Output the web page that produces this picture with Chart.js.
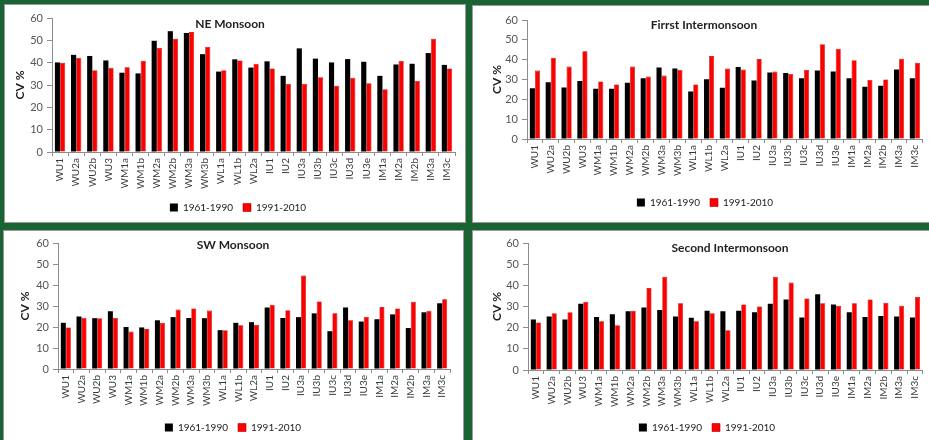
<!DOCTYPE html>
<html><head><meta charset="utf-8">
<script src="https://cdn.jsdelivr.net/npm/chart.js@4"></script>
<style>
html,body{margin:0;padding:0;background:#1a6332;width:929px;height:440px;overflow:hidden;position:relative;}
.panel{position:absolute;background:#fff;overflow:hidden;box-shadow:0 0 0 1px #9a9a9a;}
.panel canvas{position:absolute;left:0;top:0;}
</style></head><body>
<div class="panel" style="left:5px;top:5px;width:460px;height:217px"><canvas id="c1"></canvas></div>
<div class="panel" style="left:473px;top:6px;width:456px;height:216px"><canvas id="c2"></canvas></div>
<div class="panel" style="left:4px;top:231px;width:459px;height:209px"><canvas id="c3"></canvas></div>
<div class="panel" style="left:473px;top:231px;width:456px;height:209px"><canvas id="c4"></canvas></div>
<script>
const categories = ['WU1','WU2a','WU2b','WU3','WM1a','WM1b','WM2a','WM2b','WM3a','WM3b','WL1a','WL1b','WL2a','IU1','IU2','IU3a','IU3b','IU3c','IU3d','IU3e','IM1a','IM2a','IM2b','IM3a','IM3c'];
const periods = ['1961-1990','1991-2010'];
const titles = ['NE Monsoon','Firrst Intermonsoon','SW Monsoon','Second Intermonsoon'];
const yAxisTitle = 'CV %';

const neMonsoon6190 = [40.1,43.5,43,41,35.5,35.2,49.8,54.1,53.3,43.8,36,41.5,37.8,40.6,34.1,46.4,41.8,40.1,41.6,40.4,34.1,39.2,39.5,44.3,39];
const neMonsoon9110 = [40,42.2,36.6,37.7,37.9,40.9,46.6,50.7,53.7,47.1,36.6,41,39.5,37.4,30.5,30.5,33.5,29.7,33.2,30.8,28.1,40.8,31.8,50.7,37.4];

const firstInter6190 = [25.6,28.6,26,29.2,25.3,25.3,28.3,30.6,36,35.5,24,30.1,25.8,36.3,29.5,33.5,33.3,30.6,34.5,34,30.6,26.3,26.8,35,30.6];
const firstInter9110 = [34.5,41,36.5,44.2,29,27.5,36.5,31.5,32,34.8,27.5,41.8,35.5,35,40.3,34,32.8,34.8,47.8,45.5,39.7,29.8,30,40.5,38.5];

const swMonsoon6190 = [22,25,24.2,27.5,20,19.8,23.2,24.7,24.3,24.2,18.5,22,22.3,29.3,24.3,24.7,26.5,18,29.3,22.6,23.7,26,19.5,27,31.3];
const swMonsoon9110 = [19.8,24.3,24.2,24.3,17.8,19,22,28.3,28.8,27.8,18.5,20.8,21,30.5,28,44.5,32.2,26.5,23.2,24.8,29.5,28.8,32,27.7,33.2];

const secondInter6190 = [23.8,25.3,23.8,31.3,25,26.3,27.8,29.5,28.3,25.3,24.7,28,27.8,28,27.3,31.3,33.3,24.8,35.8,31,27.3,25,25.5,25.3,24.8];
const secondInter9110 = [22.5,26.8,27.3,32.3,23,21.2,28,38.7,44,31.5,23,26.8,18.8,31,30,44,41.3,33.8,31.5,30.3,31.5,33.3,31.8,30.3,34.5];

const yMin = 0, yMax = 60, yStep = 10;

const panelTextPlugin = {
  id: 'panelText',
  afterDraw(chart, args, opts) {
    const ctx = chart.ctx;
    const area = chart.chartArea;
    ctx.save();
    ctx.fillStyle = '#1f1f1f';
    ctx.textAlign = 'center';
    ctx.textBaseline = 'middle';
    ctx.font = 'bold 12px Lato';
    ctx.fillText(opts.title, opts.tx, opts.ty);
    ctx.translate(opts.yx, (area.top + area.bottom) / 2);
    ctx.rotate(-Math.PI / 2);
    ctx.fillText(opts.yTitle, 0, 0);
    ctx.restore();
  }
};

function build(id, w, h, title, black, red, g) {
  const cv = document.getElementById(id);
  const lp = 10, lfs = 10;
  const legendBottom = g.legendY + 15.5;
  const legendTop = legendBottom - (lp + 18);
  const ch = Math.max(h, Math.ceil(legendBottom));
  cv.width = w; cv.height = ch;
  cv.style.width = w + 'px'; cv.style.height = ch + 'px';
  return new Chart(cv, {
    type: 'bar',
    data: {
      labels: categories,
      datasets: [
        {label: periods[0], data: black, backgroundColor: '#000000', borderWidth: 0, categoryPercentage: 0.64, barPercentage: 1},
        {label: periods[1], data: red, backgroundColor: '#ff0000', borderColor: '#b00000', borderWidth: 0.6, categoryPercentage: 0.64, barPercentage: 1}
      ]
    },
    options: {
      responsive: false,
      animation: false,
      devicePixelRatio: 1,
      layout: {padding: {left: g.pl, top: g.top, right: w - g.right, bottom: ch - legendBottom}},
      scales: {
        x: {
          grid: {display: true, drawOnChartArea: false, drawTicks: true, tickLength: 4, color: '#8c8c8c', offset: true},
          border: {color: '#8c8c8c'},
          ticks: {minRotation: 90, maxRotation: 90, autoSkip: false, padding: 2, color: '#3a3a3a', font: {family: 'Lato', size: 10}},
          afterFit(s) { s.height = legendTop - g.bottom; }
        },
        y: {
          min: yMin, max: yMax,
          ticks: {stepSize: yStep, padding: 4, color: '#555555', font: {family: 'Lato', size: 11}},
          grid: {drawOnChartArea: false, drawTicks: true, tickLength: 5, color: '#8c8c8c'},
          border: {color: '#8c8c8c'},
          afterFit(s) { s.width = g.left - g.pl; }
        }
      },
      plugins: {
        legend: {position: 'bottom', labels: {boxWidth: 8, boxHeight: 8, padding: lp, color: '#222222', font: {family: 'Lato', size: lfs}}},
        tooltip: {enabled: false},
        panelText: {title: title, tx: g.tx, ty: g.ty, yTitle: yAxisTitle, yx: g.yx}
      }
    },
    plugins: [panelTextPlugin]
  });
}

build('c1', 460, 217, titles[0], neMonsoon6190, neMonsoon9110, {pl: 16, left: 47, top: 13, right: 450, bottom: 149, legendY: 202, tx: 225, ty: 19, yx: 15});
build('c2', 456, 216, titles[1], firstInter6190, firstInter9110, {pl: 14, left: 54, top: 14, right: 450, bottom: 135, legendY: 196, tx: 231, ty: 19, yx: 24});
build('c3', 459, 209, titles[2], swMonsoon6190, swMonsoon9110, {pl: 12, left: 54, top: 12, right: 446, bottom: 140, legendY: 196, tx: 229, ty: 14, yx: 21});
build('c4', 456, 209, titles[3], secondInter6190, secondInter9110, {pl: 14, left: 55, top: 12, right: 454, bottom: 141, legendY: 196, tx: 257, ty: 17, yx: 24});
</script>
</body></html>
